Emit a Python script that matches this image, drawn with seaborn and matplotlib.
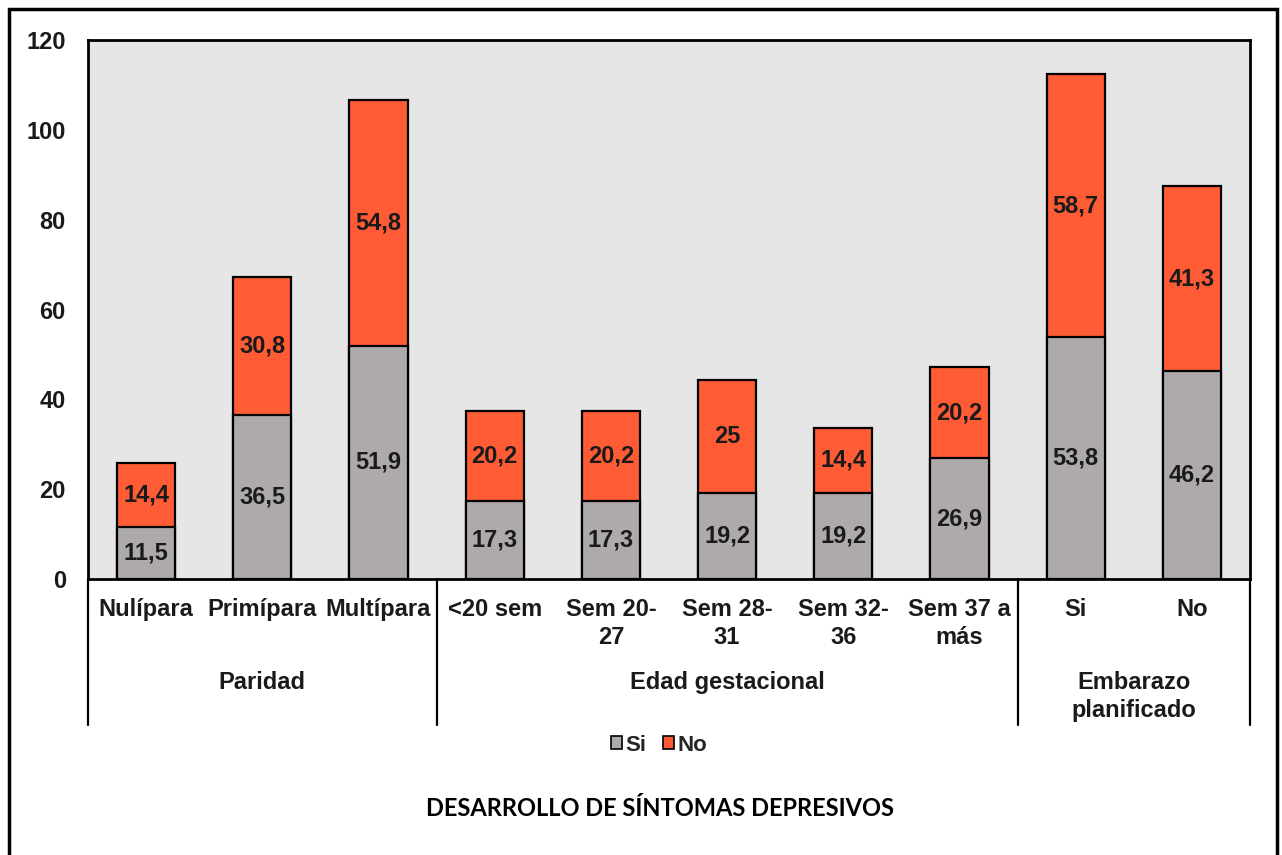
import matplotlib
matplotlib.use("Agg")
import matplotlib.pyplot as plt
import matplotlib.transforms as mtransforms
from matplotlib.patches import Rectangle, Patch
import seaborn as sns
import pandas as pd
import numpy as np

categories = ["Nulípara", "Primípara", "Multípara", "<20 sem", "Sem 20-\n27",
              "Sem 28-\n31", "Sem 32-\n36", "Sem 37 a\nmás", "Si", "No"]
si_values = [11.5, 36.5, 51.9, 17.3, 17.3, 19.2, 19.2, 26.9, 53.8, 46.2]
no_values = [14.4, 30.8, 54.8, 20.2, 20.2, 25.0, 14.4, 20.2, 58.7, 41.3]
groups = ["Paridad", "Edad gestacional", "Embarazo\nplanificado"]
group_sizes = [3, 5, 2]
series_names = ["Si", "No"]
title = "DESARROLLO DE SÍNTOMAS DEPRESIVOS"

GREY = "#AEAAAA"
ORANGE = "#FF5B35"
BG = "#E6E6E6"
FS = 17

sns.set_theme(style="white")
plt.rcParams["font.family"] = ["Liberation Sans", "DejaVu Sans"]

df = pd.DataFrame({"cat": categories, "si": si_values, "no": no_values})
df["total"] = df["si"] + df["no"]

fig = plt.figure(figsize=(12.82, 8.55), dpi=100)
ax = fig.add_axes([88 / 1282, 1 - 579 / 855, (1250 - 88) / 1282, (579 - 40) / 855])
ax.set_facecolor(BG)

sns.barplot(data=df, x="cat", y="total", color=ORANGE, saturation=1, width=0.5,
            edgecolor="black", linewidth=1.6, ax=ax, order=categories)
sns.barplot(data=df, x="cat", y="si", color=GREY, saturation=1, width=0.5,
            edgecolor="black", linewidth=1.6, ax=ax, order=categories)


def fmt(v):
    return f"{v:g}".replace(".", ",")


for i, (s, n) in enumerate(zip(si_values, no_values)):
    ax.text(i, s / 2, fmt(s), ha="center", va="center", fontsize=FS,
            fontweight="bold", color="#1a1a1a")
    ax.text(i, s + n / 2, fmt(n), ha="center", va="center", fontsize=FS,
            fontweight="bold", color="#1a1a1a")

ax.set_ylim(0, 120)
ax.set_xlim(-0.5, len(categories) - 0.5)
ax.set_yticks(range(0, 121, 20))
ax.tick_params(axis="y", length=0, pad=16, labelsize=FS)
ax.tick_params(axis="x", length=0, pad=14, labelsize=FS)
for lab in ax.get_yticklabels() + ax.get_xticklabels():
    lab.set_fontweight("bold")
    lab.set_color("#1a1a1a")
    lab.set_linespacing(1.25)
ax.set_xlabel("")
ax.set_ylabel("")
for sp in ax.spines.values():
    sp.set_visible(True)
    sp.set_color("black")
    sp.set_linewidth(2)

# group separators and labels
trans = mtransforms.blended_transform_factory(ax.transData, ax.transAxes)
line_bottom = -(725 - 579) / 539
bounds = np.concatenate([[0], np.cumsum(group_sizes)]) - 0.5
for b in bounds:
    ax.plot([b, b], [0, line_bottom], transform=trans, color="black",
            linewidth=1.6, clip_on=False)
for g, lo, hi in zip(groups, bounds[:-1], bounds[1:]):
    ax.text((lo + hi) / 2, -(671 - 579) / 539, g, transform=trans, ha="center",
            va="top", fontsize=FS, fontweight="bold", color="#1a1a1a",
            linespacing=1.3)

# legend
handles = [Patch(facecolor=GREY, edgecolor="black", linewidth=1.2),
           Patch(facecolor=ORANGE, edgecolor="black", linewidth=1.2)]
leg = fig.legend(handles, series_names, loc="center", bbox_to_anchor=(659 / 1282, 1 - 745 / 855),
                 ncol=2, frameon=False, handlelength=0.5, handleheight=0.5,
                 handletextpad=0.15, columnspacing=0.75,
                 prop={"family": "Liberation Sans", "weight": "bold", "size": 16})

fig.text(660 / 1282, 1 - 808 / 855, title, ha="center", va="center", fontsize=17,
         fontweight="bold", family=["Lato", "DejaVu Sans"], color="black")

# outer border
fig.patches.append(Rectangle((9 / 1282, -0.02), (1277 - 9) / 1282, 1 - 9 / 855 + 0.02,
                             transform=fig.transFigure, fill=False, edgecolor="black",
                             linewidth=2.5))

fig.savefig("out.png", dpi=100)
